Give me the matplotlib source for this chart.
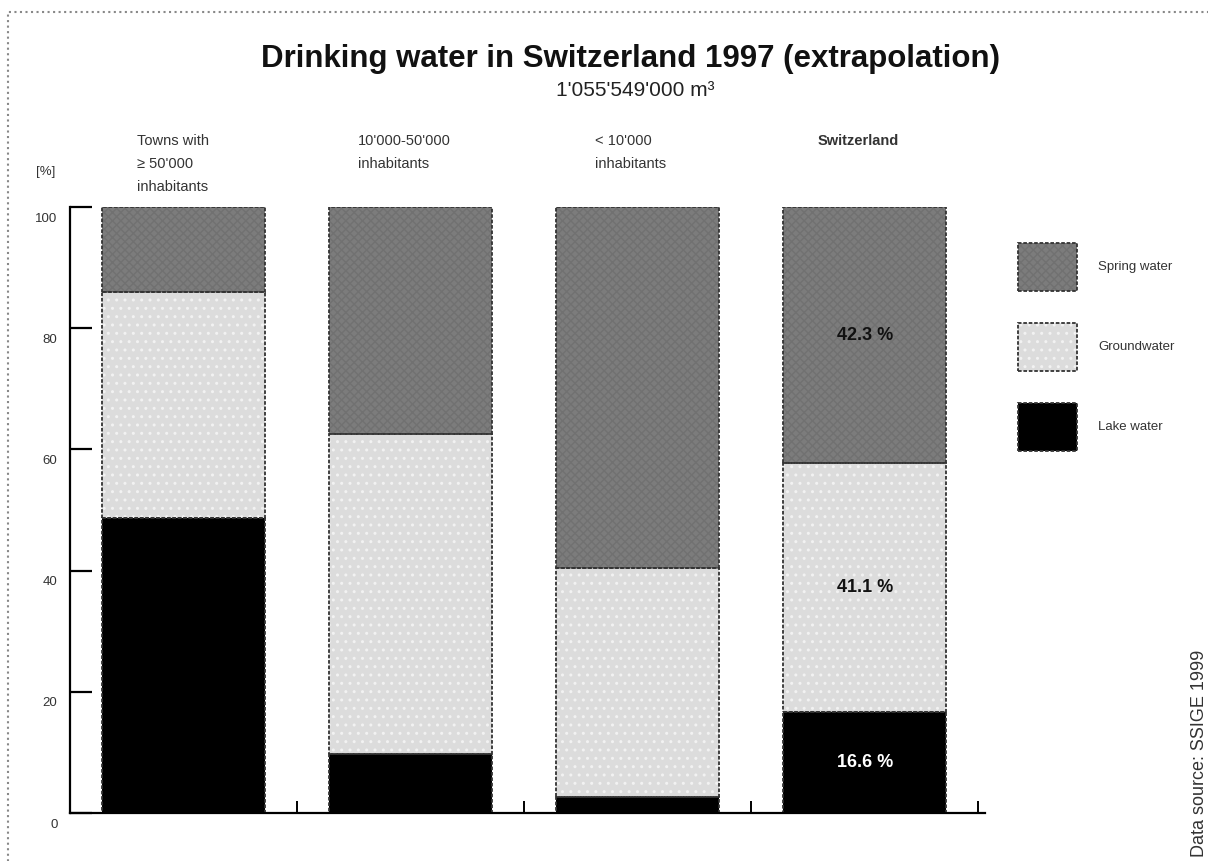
# stacked percentage bars: drinking water sources in Switzerland 1997
import matplotlib.pyplot as plt
from matplotlib.patches import Rectangle
from matplotlib.transforms import ScaledTranslation

plt.rcParams['font.family'] = ['Liberation Sans', 'DejaVu Sans']
plt.rcParams['hatch.linewidth'] = 1.0

groups = ["Towns with\n≥ 50'000\ninhabitants", "10'000-50'000\ninhabitants",
          "< 10'000\ninhabitants", "Switzerland"]
lake = [48.7, 9.8, 2.6, 16.6]
ground = [37.3, 52.7, 37.9, 41.1]
spring = [14.0, 37.5, 59.5, 42.3]
labels = ['Spring water', 'Groundwater', 'Lake water']
yticks = [0, 20, 40, 60, 80, 100]

W, H = 1208, 861
def fx(px):
    return px / W
def fy(py):
    return 1 - py / H

fig = plt.figure(figsize=(W / 100, H / 100), dpi=100)
ax = fig.add_axes([fx(70), fy(813), fx(985) - fx(70), fy(207) - fy(813)])

x = list(range(len(groups)))
width = 0.72
bottom_g = lake
bottom_s = [a + b for a, b in zip(lake, ground)]

# fills
b_lake = ax.bar(x, lake, width, color='black', lw=0)
b_ground = ax.bar(x, ground, width, bottom=bottom_g, color='#dcdcdc', lw=0)
h_ground = ax.bar(x, ground, width, bottom=bottom_g, fill=False, edgecolor='#f2f2f2', hatch='..', lw=0)
b_spring = ax.bar(x, spring, width, bottom=bottom_s, color='#7c7c7c', lw=0)
h_spring = ax.bar(x, spring, width, bottom=bottom_s, fill=False, edgecolor='#717171', hatch='xxxx', lw=0)
# dashed outlines
o_lake = ax.bar(x, lake, width, fill=False, edgecolor='#333333', lw=1.3, ls=(0, (2, 1)))
o_ground = ax.bar(x, ground, width, bottom=bottom_g, fill=False, edgecolor='#333333', lw=1.3, ls=(0, (2, 1)))
o_spring = ax.bar(x, spring, width, bottom=bottom_s, fill=False, edgecolor='#333333', lw=1.3, ls=(0, (2, 1)))

# percentages for Switzerland
i = len(groups) - 1
ax.text(i, lake[i] / 2, f'{lake[i]:.1f} %', color='white', ha='center', va='center', fontsize=13, fontweight='bold')
ax.text(i, bottom_g[i] + ground[i] / 2, f'{ground[i]:.1f} %', color='#111111', ha='center', va='center', fontsize=13, fontweight='bold')
ax.text(i, bottom_s[i] + spring[i] / 2, f'{spring[i]:.1f} %', color='#111111', ha='center', va='center', fontsize=13, fontweight='bold')

ax.set_xlim(-0.5, 3.53)
ax.set_ylim(0, 100)
ax.spines['top'].set_visible(False)
ax.spines['right'].set_visible(False)
ax.spines['left'].set_linewidth(1.6)
ax.spines['bottom'].set_linewidth(1.6)
ax.set_yticks(yticks)
ax.set_yticklabels([str(t) for t in yticks], color='#333333', fontsize=9.5)
ax.tick_params(axis='y', direction='in', length=16, width=1.6, pad=9)
ax.set_xticks([k + 0.5 for k in x])
ax.set_xticklabels([])
ax.tick_params(axis='x', direction='in', length=9, width=1.4)
for lab in ax.get_yticklabels():
    lab.set_transform(lab.get_transform() + ScaledTranslation(0, -0.1, fig.dpi_scale_trans))

ax.legend([(b_spring, h_spring, o_spring), (b_ground, h_ground, o_ground), (b_lake, o_lake)], labels,
          loc='upper left', bbox_to_anchor=(fx(1018), fy(243)), bbox_transform=fig.transFigure,
          frameon=False, fontsize=9.5, handlelength=4.47, handleheight=5.2, labelspacing=2.45,
          handletextpad=1.6, borderpad=0, borderaxespad=0, labelcolor='#333333')

# titles and column headers
fig.text(fx(630), fy(59), 'Drinking water in Switzerland 1997 (extrapolation)', ha='center', va='center',
         fontsize=22.5, fontweight='bold', color='#111111')
fig.text(fx(635), fy(91), "1'055'549'000 m³", ha='center', va='center', fontsize=15, color='#222222')
fig.text(fx(36), fy(172), '[%]', ha='left', va='center', fontsize=9.5, color='#333333')
head_x = [137, 358, 595, 818]
for k, g in enumerate(groups):
    fig.text(fx(head_x[k]), fy(134), g, ha='left', va='top', fontsize=10.5, color='#333333',
             linespacing=1.8, fontweight='bold' if g == 'Switzerland' else 'normal')

fig.text(fx(1200), fy(857), 'Data source: SSIGE 1999', rotation=90, ha='center', va='bottom',
         fontsize=13, color='#333333')

# dotted page frame
fig.add_artist(Rectangle((fx(8), -0.1), 1.2, fy(12) + 0.1, transform=fig.transFigure,
                         fill=False, ls=':', ec='#888888', lw=1.5))

fig.savefig('out.png', dpi=100)
